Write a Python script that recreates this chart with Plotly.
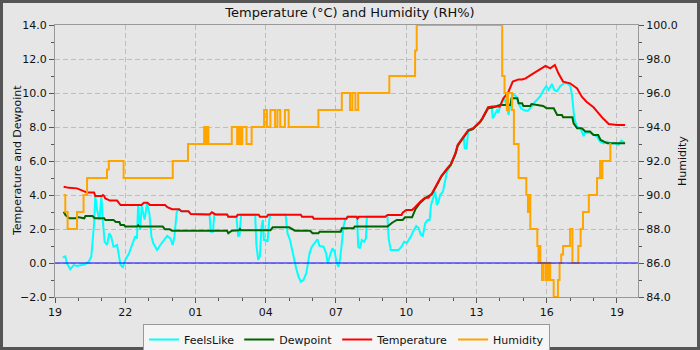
import pandas as pd
import plotly.graph_objects as go

# Hours after 19:00 on the first day
START = "2024-01-01 19:00"

temp_t = [0.37, 0.6, 0.94, 1.15, 1.37, 1.67, 1.72, 2.0, 2.05, 2.1, 2.15, 2.35, 2.65, 2.8, 3.7, 3.8, 3.95, 4.05,
          4.7, 4.8, 5.0, 5.3, 5.4, 5.7, 5.8, 6.6, 6.7, 6.85, 7.35, 7.4, 7.75, 7.8, 8.7, 8.75, 9.05, 9.1,
          10.5, 10.55, 11.0, 11.05, 12.45, 12.5, 12.88, 12.92, 12.98, 14.1, 14.2, 14.8, 14.85, 15.0, 15.25,
          15.4, 15.6, 15.8, 15.95, 16.1, 16.3, 16.5, 16.75, 16.9, 17.1, 17.2, 17.45, 17.65, 17.85, 18.15,
          18.25, 18.5, 18.7, 19.0, 19.15, 19.35, 19.55, 19.8, 19.95, 20.1, 20.4, 20.65, 20.95, 21.15, 21.35,
          21.5, 21.7, 22.0, 22.3, 22.5, 22.7, 23.0, 23.2, 23.4, 23.65, 24.0, 24.35]
temp_v = [4.49, 4.42, 4.39, 4.29, 4.14, 4.14, 3.94, 3.94, 4.0, 3.94, 3.8, 3.67, 3.67, 3.41, 3.41, 3.55, 3.55, 3.41,
          3.41, 3.28, 3.16, 3.16, 3.04, 3.04, 2.88, 2.86, 2.98, 2.86, 2.86, 2.72, 2.72, 2.84, 2.84, 2.72, 2.72, 2.84,
          2.84, 2.72, 2.72, 2.61, 2.61, 2.72, 2.72, 2.62, 2.72, 2.72, 2.82, 2.82, 2.96, 3.12, 3.12,
          3.31, 3.61, 3.84, 3.84, 4.1, 4.59, 5.12, 5.57, 5.8, 6.45, 6.94, 7.43, 7.82, 7.92, 8.31,
          8.51, 9.16, 9.2, 9.2, 9.69, 10.02, 10.67, 10.8, 10.8, 10.86, 11.12, 11.35, 11.59, 11.45, 11.65,
          11.16, 10.67, 10.57, 10.27, 9.78, 9.49, 9.16, 8.8, 8.51, 8.18, 8.12, 8.12]

dew_t = [0.37, 0.45, 0.6, 0.9, 0.95, 1.25, 1.3, 1.6, 1.7, 2.1, 2.15, 2.5, 2.6, 2.75, 2.8, 2.95, 3.0, 3.5, 3.55,
         3.6, 4.6, 4.7, 4.9, 5.0, 7.35, 7.4, 7.55, 7.85, 7.9, 7.95, 9.2, 9.3, 10.0, 10.25, 10.9, 11.0, 11.25,
         11.3, 12.2, 12.25, 12.75, 12.8, 14.2, 14.4, 14.6, 14.85, 14.95, 15.25, 15.4, 15.6, 15.8, 16.1, 16.3,
         16.5, 16.75, 16.9, 17.1, 17.2, 17.45, 17.65, 17.85, 18.15, 18.25, 18.5, 18.7, 19.0, 19.45, 19.5,
         19.75, 19.8, 19.95, 20.0, 20.3, 20.35, 20.85, 21.0, 21.3, 21.45, 21.65, 21.7, 22.1, 22.15, 22.3,
         22.5, 22.65, 22.85, 23.0, 23.2, 23.3, 23.6, 24.35]
dew_v = [3.02, 2.82, 2.63, 2.63, 2.7, 2.63, 2.76, 2.76, 2.63, 2.63, 2.53, 2.53, 2.41, 2.41, 2.24, 2.24, 2.14, 2.14, 2.22,
         2.14, 2.14, 1.98, 1.98, 1.9, 1.9, 1.75, 1.9, 1.92, 2.0, 1.92, 1.92, 2.1, 2.1, 1.9, 1.9, 1.75, 1.75,
         1.84, 1.84, 2.04, 2.04, 2.14, 2.14, 2.37, 2.53, 2.53, 2.69, 2.69, 3.18, 3.55, 3.8, 4.05, 4.55,
         5.08, 5.52, 5.75, 6.4, 6.9, 7.38, 7.78, 7.88, 8.27, 8.47, 9.1, 9.15, 9.29, 9.29, 9.69,
         9.69, 9.39, 9.39, 9.24, 9.24, 9.35, 9.24, 9.1, 9.1, 8.71, 8.71, 8.57, 8.57, 8.22, 7.92,
         7.92, 7.73, 7.73, 7.53, 7.53, 7.24, 7.04, 7.04]

feels_t = [0.33, 0.44, 0.51, 0.65, 0.8, 0.94, 1.15, 1.3, 1.44, 1.55, 1.6, 1.67, 1.72, 1.8, 1.9, 1.98, 2.04, 2.12,
           2.22, 2.32, 2.4, 2.5, 2.65, 2.72, 2.8, 2.9, 3.0, 3.15, 3.3, 3.43, 3.5, 3.55, 3.64, 3.7, 3.83, 3.93,
           4.03, 4.12, 4.2, 4.36, 4.5, 4.65, 4.79, 4.93, 5.03, 5.1, 5.2, 5.3, 5.4, 5.7, 5.8, 6.6, 6.65, 6.75,
           6.8, 7.35, 7.4, 7.75, 7.82, 7.88, 7.95, 8.55, 8.6, 8.68, 8.75, 8.82, 8.88, 8.92, 9.0, 9.08, 9.15,
           9.2, 9.85, 9.93, 10.04, 10.1, 10.21, 10.3, 10.4, 10.5, 10.61, 10.73, 10.78, 10.87, 10.97, 11.11,
           11.21, 11.3, 11.47, 11.58, 11.65, 11.75, 11.85, 11.94, 12.04, 12.11, 12.18, 12.25, 12.32, 12.39,
           12.5, 12.9, 12.95, 13.03, 13.1, 13.2, 13.28, 13.32, 14.2, 14.25, 14.34, 14.67, 14.82, 14.91,
           15.03, 15.1, 15.2, 15.29, 15.43, 15.53, 15.63, 15.71, 15.81, 15.91, 16.0, 16.06, 16.17, 16.24,
           16.31, 16.38, 16.45, 16.57, 16.67, 16.74, 16.9, 17.1, 17.2, 17.45, 17.5, 17.58, 17.65, 17.85,
           18.15, 18.25, 18.5, 18.65, 18.7, 18.8, 18.88, 18.94, 19.02, 19.13, 19.19, 19.3, 19.37, 19.44,
           19.52, 19.59, 19.7, 19.8, 19.9, 20.04, 20.18, 20.3, 20.44, 20.58, 20.73, 20.87, 20.98, 21.08,
           21.23, 21.32, 21.44, 21.58, 21.75, 21.89, 22.01, 22.08, 22.12, 22.18, 22.29, 22.44, 22.58,
           22.65, 22.75, 22.86, 23.0, 23.15, 23.29, 23.43, 23.58, 23.72, 23.93, 24.07, 24.19, 24.32]
feels_v = [0.33, 0.39, -0.02, -0.37, -0.12, -0.18, -0.12, -0.06, 0.08, 0.37, 1.16, 2.33, 3.94, 3.12, 2.53, 3.9, 2.53, 1.25,
           1.06, 1.75, 1.55, 0.96, 1.06, 0.47, -0.12, -0.25, 0.18, 0.53, 1.16, 1.59, 1.45, 3.41, 1.94, 3.35, 2.55, 3.51,
           2.92, 1.55, 1.16, 0.76, 1.06, 1.35, 1.59, 1.45, 1.06, 1.55, 3.02, 3.16, 3.04, 3.04, 2.88, 2.86, 1.84, 1.84,
           2.86, 2.86, 2.72, 2.72, 1.6, 1.6, 2.84, 2.84, 1.06, 0.18, 0.39, 2.14, 2.53, 1.35, 1.35, 1.25, 2.53,
           2.84, 2.84, 1.75, 1.35, 0.96, 0.18, -0.31, -0.8, -1.1, -1.0, -0.61, -0.22, 0.57, 0.96, 1.2,
           1.39, 1.0, 0.96, 0.57, -0.02, 0.47, 0.86, 0.67, -0.02, -0.22, 0.27, 1.16, 2.14, 2.53,
           2.72, 2.72, 0.96, 0.86, 1.35, 1.25, 1.45, 2.72, 2.72, 1.45, 0.76, 0.76, 1.0, 1.25,
           1.18, 1.35, 1.55, 1.84, 2.18, 2.06, 1.65, 1.59, 2.33, 2.53, 2.53, 3.41, 3.9, 4.2,
           3.41, 3.61, 4.0, 4.2, 4.88, 5.37, 5.8, 6.45, 6.94, 7.43, 6.75, 6.75, 7.82, 7.92,
           8.31, 8.51, 9.16, 9.2, 8.51, 8.8, 8.98, 8.85, 9.27, 9.6, 9.69, 9.24, 8.71, 9.24,
           9.8, 9.9, 9.8, 9.39, 9.1, 8.98, 8.94, 9.1, 9.39, 9.59, 9.82, 10.18, 10.41, 10.18,
           10.53, 10.18, 10.1, 10.4, 10.57, 10.57, 10.41, 9.9, 9.1, 8.51, 8.02, 7.92, 7.47,
           7.7, 7.65, 7.67, 7.55, 7.43, 7.14, 7.04, 7.14, 7.04, 7.04, 6.94, 7.2, 7.1]

hum_t = [0.37, 0.44, 0.54, 0.94, 1.22, 1.37, 2.22, 2.3, 2.93, 5.03, 5.68, 6.37, 6.45, 6.5, 6.55, 7.55, 7.78, 7.85,
         7.92, 8.0, 8.18, 8.4, 8.93, 9.05, 9.2, 9.4, 9.5, 9.62, 9.82, 9.98, 10.1, 11.25, 12.25, 12.6, 12.7,
         12.83, 12.95, 14.28, 15.38, 15.45, 19.1, 19.2, 19.3, 19.35, 19.52, 19.6, 19.8, 20.13, 20.2, 20.25,
         20.3, 20.6, 20.65, 20.7, 20.73, 20.8, 20.85, 20.95, 21.0, 21.05, 21.1, 21.15, 21.3, 21.48, 21.55,
         21.62, 21.7, 22.0, 22.1, 22.35, 22.45, 22.55, 22.8, 23.15, 23.28, 23.32, 23.38, 23.72, 23.76]
hum_v = [90, 89, 88, 89, 90, 91, 91.5, 92, 91, 92, 93, 94, 93, 94, 93, 94, 93, 94,
         93, 94, 93, 94, 95, 94, 95, 94, 95, 94, 95, 94, 94, 95, 96, 95, 96,
         95, 96, 97, 98.5, 100, 97, 96, 95, 96, 95, 93, 91, 90, 89, 90,
         88, 87, 86, 87, 86, 85, 86, 85, 86, 85, 86, 85, 84, 85, 86,
         86.5, 87, 88, 86, 87, 88, 89, 90, 91, 92, 91, 92, 93, 93]

series_names = ["FeelsLike", "Dewpoint", "Temperature", "Humidity"]
series_colors = ["#00ffff", "#006400", "#ff0000", "#ffa500"]


def to_time(hours):
    return pd.Timestamp(START) + pd.to_timedelta(hours, unit="h")


FONT = "DejaVu Sans"
fig = go.Figure()
fig.add_trace(go.Scatter(x=to_time(feels_t), y=feels_v, name=series_names[0], mode="lines",
                         line=dict(color=series_colors[0], width=2)))
fig.add_trace(go.Scatter(x=to_time(dew_t), y=dew_v, name=series_names[1], mode="lines",
                         line=dict(color=series_colors[1], width=2)))
fig.add_trace(go.Scatter(x=to_time(temp_t), y=temp_v, name=series_names[2], mode="lines",
                         line=dict(color=series_colors[2], width=2)))
fig.add_trace(go.Scatter(x=to_time(hum_t), y=hum_v, name=series_names[3], mode="lines", yaxis="y2",
                         line=dict(color=series_colors[3], width=2, shape="hv")))

L, R, T, B = 55, 62, 25, 53
PW, PH = 700 - L - R, 350 - T - B


def px2x(px):
    return (px - L) / PW


def py2y(py):
    return (350 - B - py) / PH


axis_common = dict(showline=True, linecolor="#999999", linewidth=1, ticks="outside", ticklen=5,
                   tickcolor="#555555", tickfont=dict(family=FONT, size=11, color="#111111"))

fig.update_layout(
    width=700, height=350,
    margin=dict(l=L, r=R, t=T, b=B, autoexpand=False),
    paper_bgcolor="#e6e6e6", plot_bgcolor="#e6e6e6",
    font=dict(family=FONT, size=11, color="#111111"),
    title=dict(text="Temperature (°C) and Humidity (RH%)", x=0.5, xanchor="center", y=1 - 12 / 350,
               yanchor="middle", font=dict(family=FONT, size=13, color="#111111")),
    xaxis=dict(**axis_common, type="date", range=[to_time(0), to_time(24.9)], tick0=to_time(0),
               dtick=3 * 3600000, tickformat="%H", mirror=True, showgrid=True, gridcolor="#bdbdbd",
               griddash="5px,3px", gridwidth=1,
               minor=dict(dtick=3600000, ticks="outside", ticklen=3, tickcolor="#555555", showgrid=False)),
    yaxis=dict(**axis_common, range=[-2, 14], dtick=2, tickformat=".1f", mirror=True, showgrid=True,
               gridcolor="#bdbdbd", griddash="5px,3px", gridwidth=1, zeroline=False,
               minor=dict(dtick=1, ticks="outside", ticklen=3, tickcolor="#555555", showgrid=False)),
    yaxis2=dict(**axis_common, range=[84, 100], dtick=2, tickformat=".1f", overlaying="y", side="right",
                showgrid=False, zeroline=False,
                minor=dict(dtick=1, ticks="outside", ticklen=3, tickcolor="#555555", showgrid=False)),
    showlegend=True,
    legend=dict(orientation="h", x=0.5, xanchor="center", y=py2y(324), yanchor="top",
                bgcolor="#f5f5f5", bordercolor="#999999", borderwidth=1, itemwidth=30,
                font=dict(family=FONT, size=11, color="#111111")),
)

fig.add_annotation(text="Temperature and Dewpoint", textangle=-90, xref="paper", yref="paper",
                   x=px2x(17), y=0.5, xanchor="center", yanchor="middle", showarrow=False,
                   font=dict(family=FONT, size=11, color="#111111"))
fig.add_annotation(text="Humidity", textangle=-90, xref="paper", yref="paper",
                   x=px2x(682), y=0.5, xanchor="center", yanchor="middle", showarrow=False,
                   font=dict(family=FONT, size=11, color="#111111"))

# zero (freezing) reference line
fig.add_shape(type="line", xref="paper", yref="y", x0=0, x1=1, y0=0, y1=0,
              line=dict(color="rgba(0,0,255,0.5)", width=2), layer="above")
# outer frame
fig.add_shape(type="rect", xref="paper", yref="paper", x0=px2x(1.5), x1=px2x(698.5),
              y0=py2y(348.5), y1=py2y(1.5), line=dict(color="#555555", width=3), layer="above")

fig.write_html("out.html")
